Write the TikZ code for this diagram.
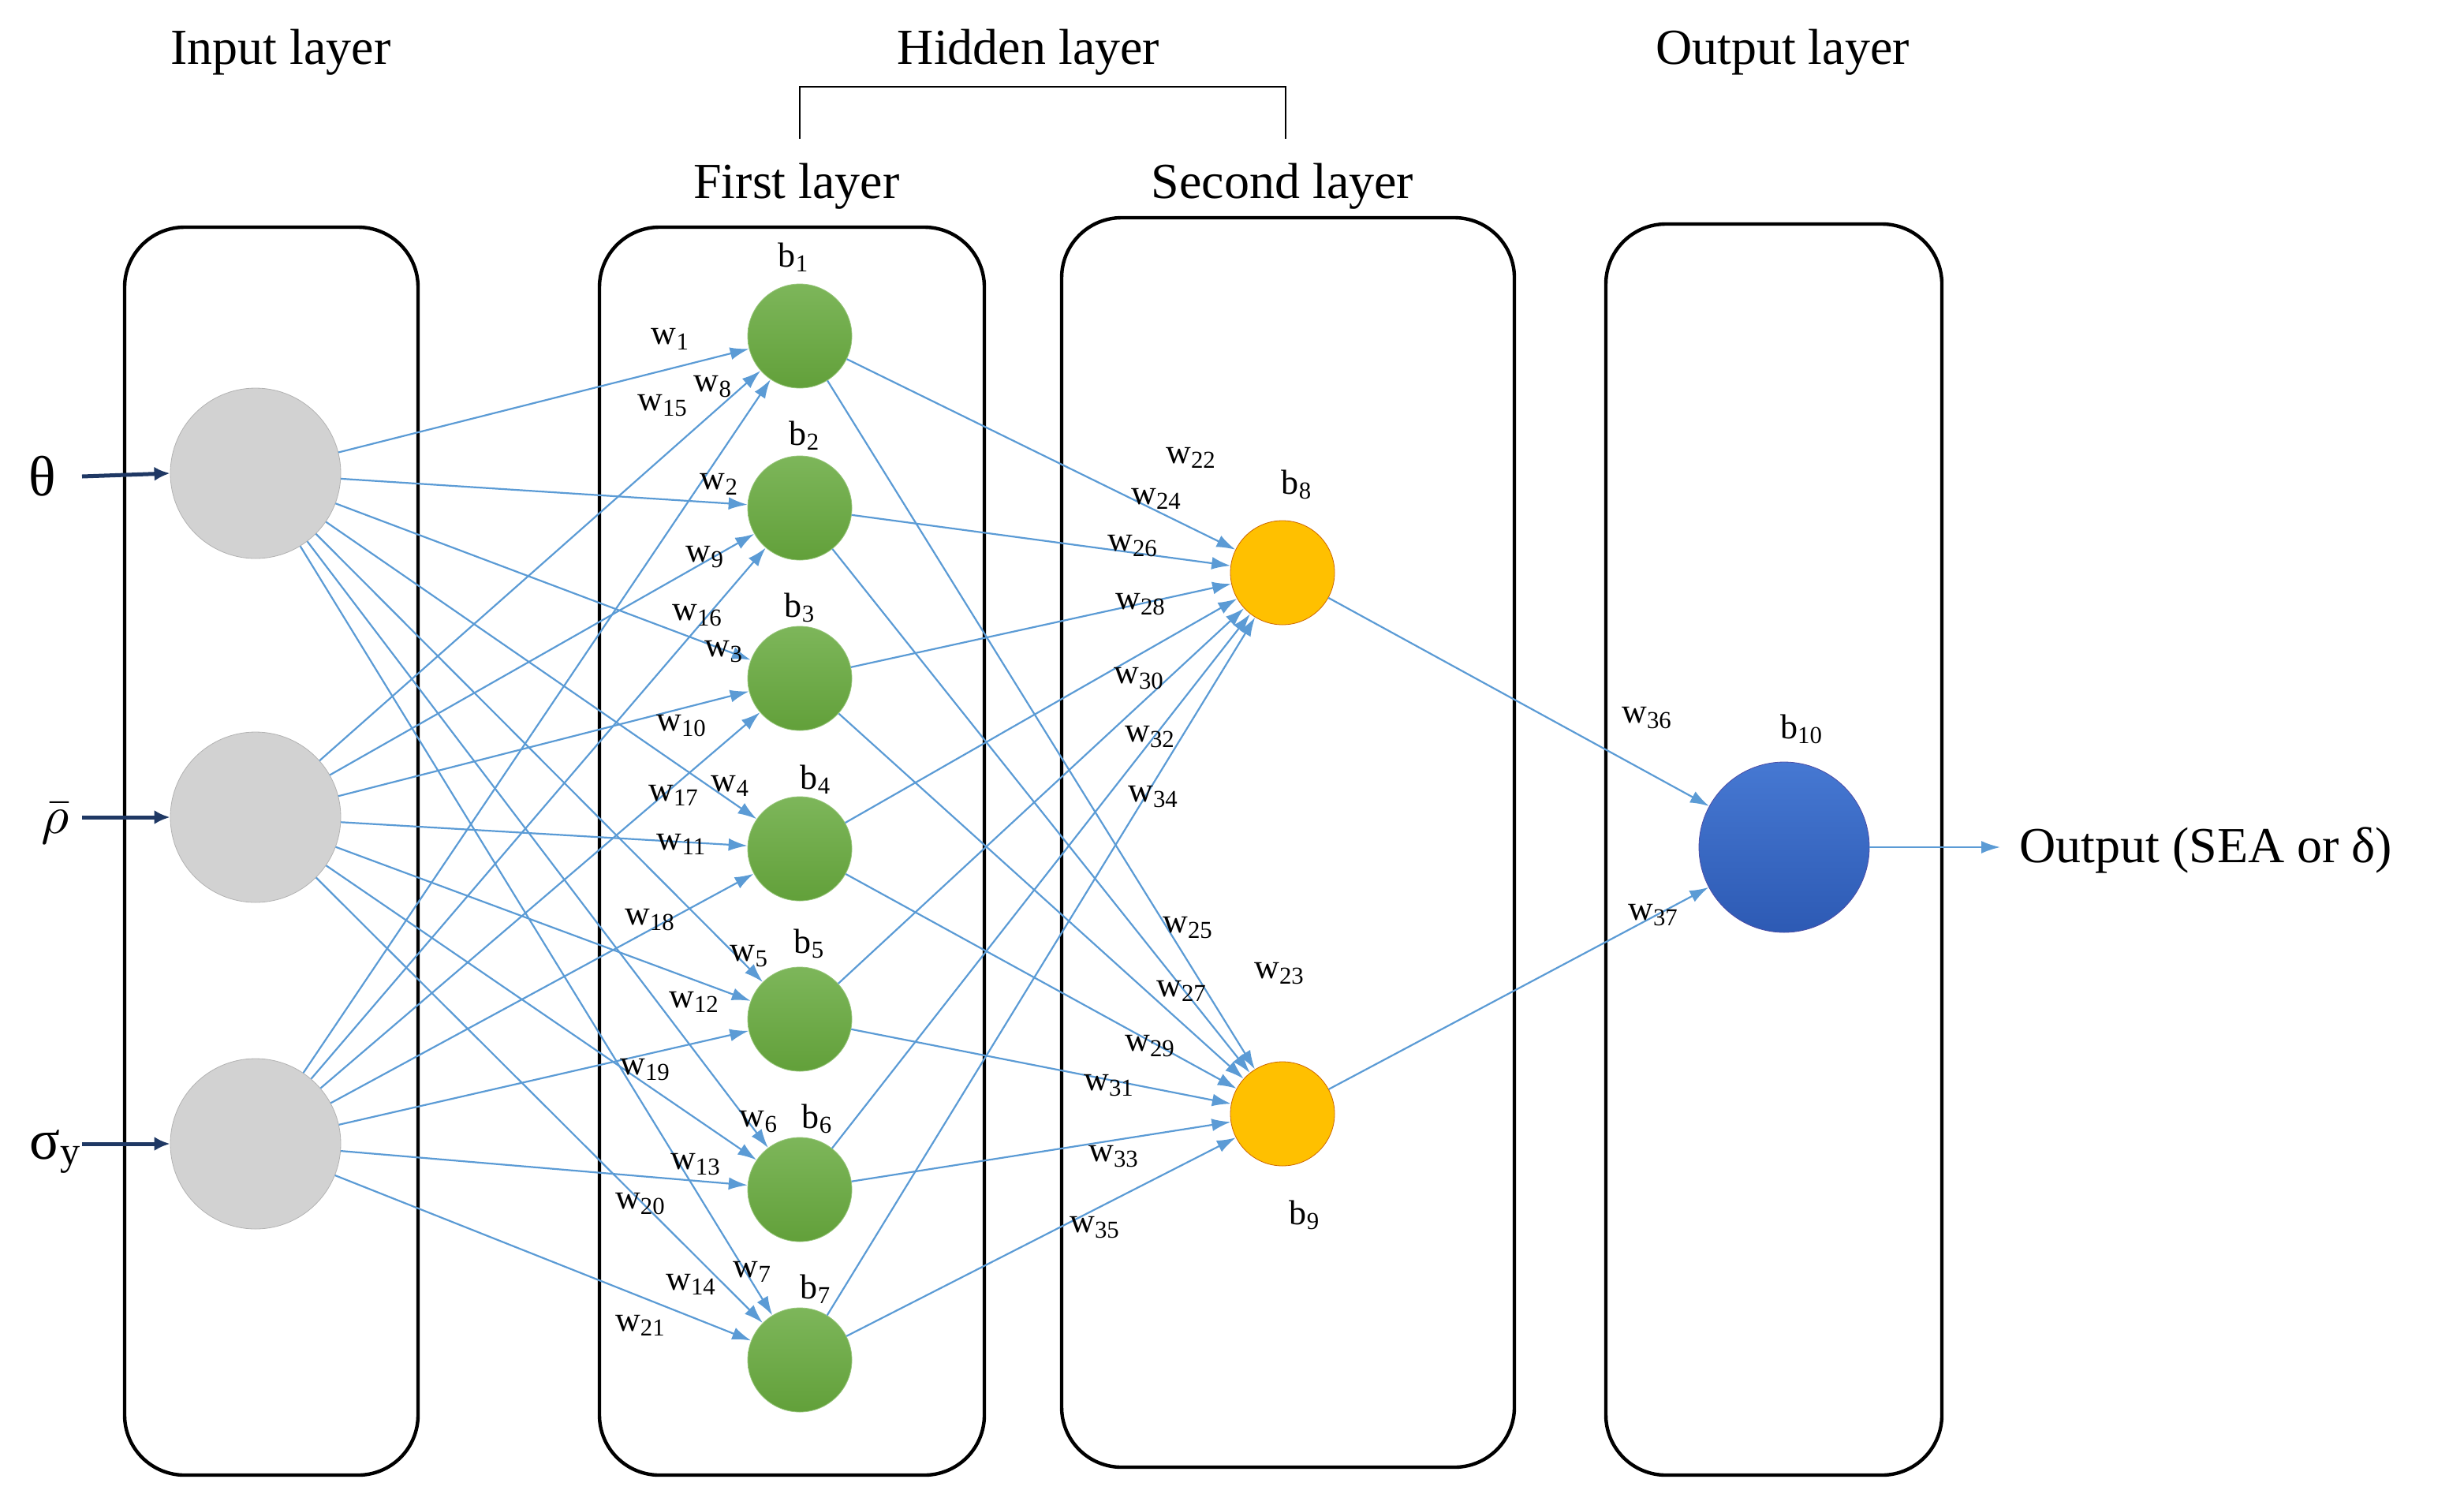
\documentclass[tikz,border=0pt]{standalone}
\usepackage{fontspec}
\usepackage{graphicx}
\setmainfont{Liberation Serif}
\usetikzlibrary{arrows.meta}
\definecolor{lb}{HTML}{5B9BD5}
\definecolor{gtop}{HTML}{7DB65A}
\definecolor{gbot}{HTML}{62A03A}
\begin{document}
\begin{tikzpicture}[x=1pt,y=-1pt,
  box/.style={draw=black,line width=2.2pt,rounded corners=38pt},
  inp/.style={circle,minimum size=108pt,inner sep=0pt,draw=gray!60,fill=gray!35},
  grn/.style={circle,minimum size=66pt,inner sep=0pt,draw=gtop!80!white,top color=gtop,bottom color=gbot,shading angle=0},
  yel/.style={circle,minimum size=66pt,inner sep=0pt,draw=orange!80!black,fill={rgb,255:red,255;green,192;blue,0}},
  blu/.style={circle,minimum size=108pt,inner sep=0pt,draw=blue!50!black!70,top color={rgb,255:red,70;green,120;blue,210},bottom color={rgb,255:red,45;green,90;blue,180}},
  ed/.style={draw=lb,line width=1.1pt,-{Latex[length=12pt,width=8pt]}},
  wl/.style={font=\fontsize{22}{24}\selectfont,inner sep=0pt},
  tl/.style={font=\fontsize{32}{36}\selectfont,inner sep=0pt}]
\useasboundingbox (0,0) rectangle (1562,956);
% boxes
\draw[box] (79,144) rectangle (265,935);
\draw[box] (380,144) rectangle (624,935);
\draw[box] (673,138) rectangle (960,930);
\draw[box] (1018,142) rectangle (1231,935);
% titles
\node[tl] (tin) at (178,33) {Input layer};
\node[tl] (thid) at (652,33) {Hidden layer};
\node[tl] (tout) at (1130,33) {Output layer};
\node[tl] (tf) at (505,118) {First layer};
\node[tl] (ts) at (813,118) {Second layer};
\draw[line width=1.2pt] (507,88) -- (507,55) -- (815,55) -- (815,88);
% nodes
\node[inp] (i1) at (162,300) {};
\node[inp] (i2) at (162,518) {};
\node[inp] (i3) at (162,725) {};
\foreach \k/\y in {1/213,2/322,3/430,4/538,5/646,6/754,7/862}
  \node[grn] (g\k) at (507,\y) {};
\node[yel] (y1) at (813,363) {};
\node[yel] (y2) at (813,706) {};
\node[blu] (o) at (1131,537) {};
% edges
\foreach \i in {1,2,3}
  \foreach \k in {1,...,7}
    \draw[ed] (i\i) -- (g\k);
\foreach \k in {1,...,7}{
  \draw[ed] (g\k) -- (y1);
  \draw[ed] (g\k) -- (y2);}
\draw[ed] (y1) -- (o);
\draw[ed] (y2) -- (o);
% inputs
\node[font=\fontsize{36}{40}\selectfont,inner sep=0pt] (lt) at (27,302) {θ};
\node[inner sep=0pt] (lr) at (35,522) {\scalebox{3.4}{$\bar{\rho}$}};
\node[font=\fontsize{36}{40}\selectfont,inner sep=0pt] (ls) at (35,730) {σ\textsubscript{y}};
\draw[line width=2.5pt,draw={rgb,255:red,31;green,56;blue,100},-{Latex[length=10pt,width=9pt]}] (52,302) -- (i1.west);
\draw[line width=2.5pt,draw={rgb,255:red,31;green,56;blue,100},-{Latex[length=10pt,width=9pt]}] (52,518) -- (i2.west);
\draw[line width=2.5pt,draw={rgb,255:red,31;green,56;blue,100},-{Latex[length=10pt,width=9pt]}] (52,725) -- (i3.west);
\coordinate (oe) at (1268,537);
\draw[ed] (o.east) -- (oe);
\node[tl,anchor=west] (ot) at (1280,539) {Output (SEA or δ)};
% bias labels
\foreach \n/\x/\y in {1/503/163,2/510/276,3/507/385,4/517/494,5/513/598,6/518/709,7/517/817,8/822/307,9/827/770,10/1142/462}
  \node[wl] (b\n) at (\x,\y) {b\textsubscript{\n}};
% weight labels
\foreach \n/\x/\y in {1/425/215,8/452/245,15/420/257,2/456/307,9/447/353,16/442/390,3/459/413,10/432/460,17/427/504,4/463/498,11/432/535,18/412/583,5/475/606,12/440/635,19/409/678,6/481/711,13/441/738,20/406/763,7/477/806,14/438/814,21/406/840,22/755/290,24/733/316,26/718/346,28/723/383,30/722/430,32/729/467,34/731/505,25/753/588,23/811/617,27/749/628,29/729/663,31/703/688,33/706/733,35/694/778,36/1044/455,37/1048/580}
  \node[wl] (w\n) at (\x,\y) {w\textsubscript{\n}};
\end{tikzpicture}
\end{document}
